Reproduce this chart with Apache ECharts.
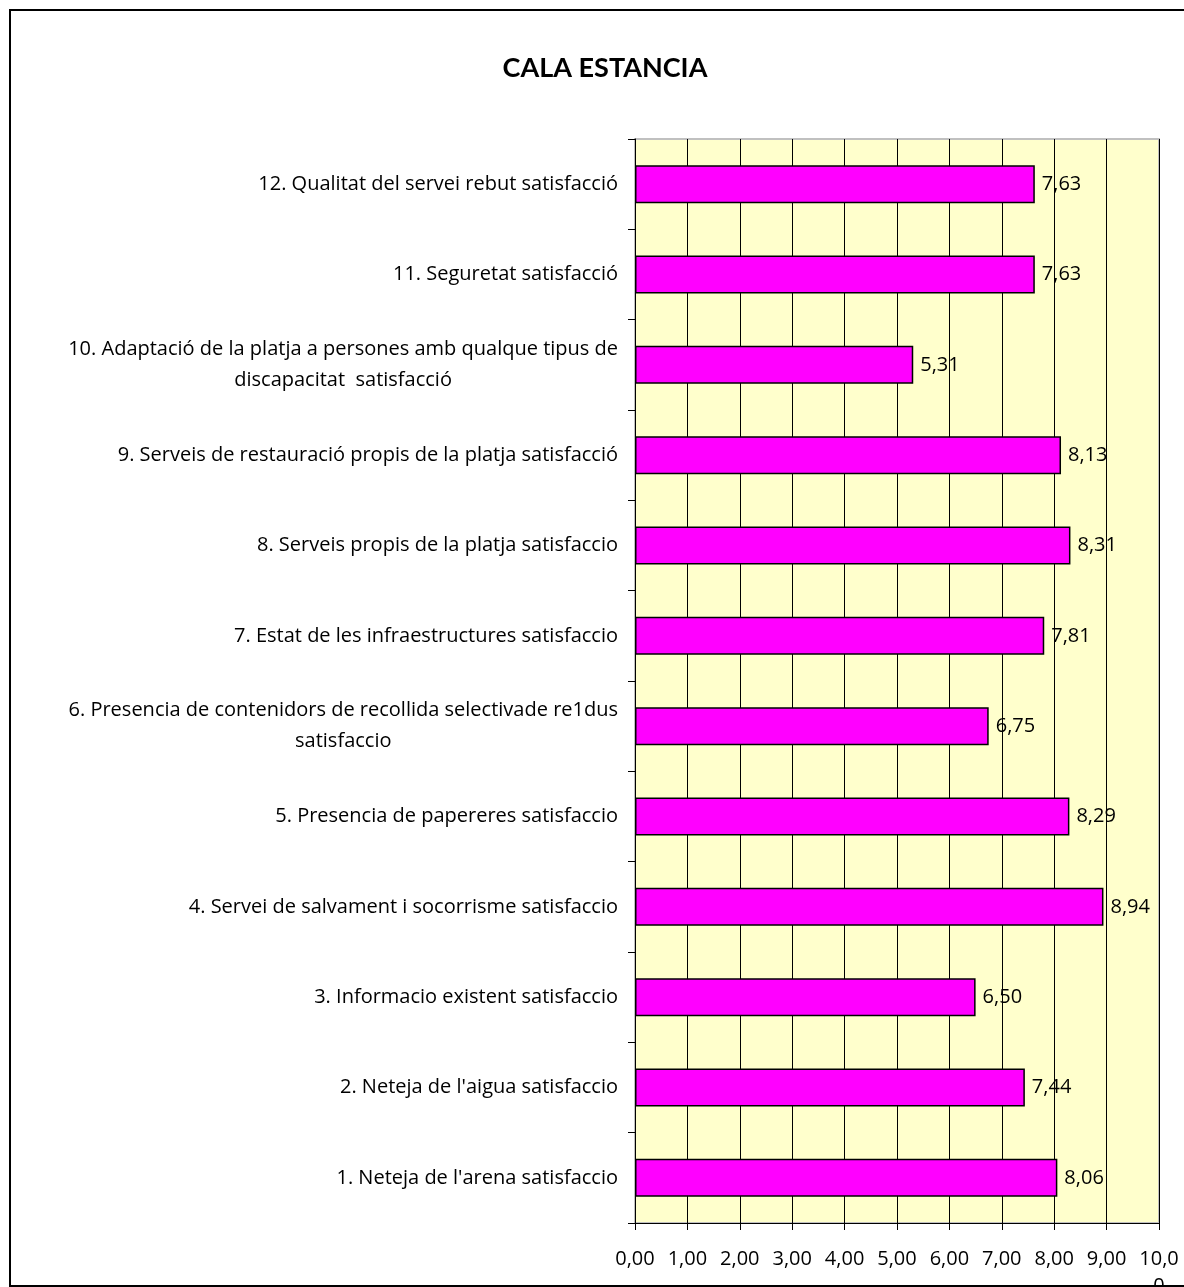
<!DOCTYPE html>
<html>
<head>
<meta charset="utf-8">
<script src="https://cdn.jsdelivr.net/npm/echarts@6/dist/echarts.min.js"></script>
<style>
  html, body { margin: 0; padding: 0; background: #fff; }
  #chart { width: 1184px; height: 1287px; }
</style>
</head>
<body>
<div id="chart"></div>
<script>
// Satisfaction scores per item (bottom to top on the chart)
const categories = [
  "1. Neteja de l'arena satisfaccio",
  "2. Neteja de l'aigua satisfaccio",
  "3. Informacio existent satisfaccio",
  "4. Servei de salvament i socorrisme satisfaccio",
  "5. Presencia de papereres satisfaccio",
  "6. Presencia de contenidors de recollida selectivade re1dus\nsatisfaccio",
  "7. Estat de les infraestructures satisfaccio",
  "8. Serveis propis de la platja satisfaccio",
  "9. Serveis de restauració propis de la platja satisfacció",
  "10. Adaptació de la platja a persones amb qualque tipus de\ndiscapacitat  satisfacció",
  "11. Seguretat satisfacció",
  "12. Qualitat del servei rebut satisfacció"
];
const scores = [8.06, 7.44, 6.50, 8.94, 8.29, 6.75, 7.81, 8.31, 8.13, 5.31, 7.63, 7.63];
const tickLabels = ["0,00", "1,00", "2,00", "3,00", "4,00", "5,00", "6,00", "7,00", "8,00", "9,00", "10,0\n0"];
const chartTitle = "CALA ESTANCIA";

const FONT = "'Open Sans', Lato, sans-serif";
const fmt = v => v.toFixed(2).replace('.', ',');

const chart = echarts.init(document.getElementById('chart'), null, { renderer: 'canvas' });

chart.setOption({
  animation: false,
  backgroundColor: '#ffffff',
  textStyle: { fontFamily: FONT },
  title: {
    text: chartTitle,
    left: 600,
    top: 50,
    textAlign: 'center',
    textStyle: { fontFamily: "Lato, 'Open Sans', sans-serif", fontWeight: 'bold', fontSize: 27, color: '#000' }
  },
  graphic: [{
    type: 'rect',
    silent: true,
    shape: { x: 10, y: 10, width: 1200, height: 1276 },
    style: { fill: 'none', stroke: '#000', lineWidth: 2 }
  }],
  grid: {
    left: 635,
    top: 139,
    right: 25,
    bottom: 64,
    outerBoundsMode: 'none',
    containLabel: false,
    show: true,
    backgroundColor: '#FFFFCC',
    borderColor: '#c0c0c0',
    borderWidth: 2
  },
  xAxis: {
    type: 'value',
    min: 0,
    max: 10,
    interval: 1,
    axisLine: { show: true, lineStyle: { color: '#000', width: 1 } },
    axisTick: { show: true, inside: false, length: 7, lineStyle: { color: '#000' } },
    splitLine: { show: true, lineStyle: { color: '#000', width: 1 } },
    axisLabel: {
      margin: 23,
      fontFamily: FONT,
      fontSize: 20,
      color: '#000',
      lineHeight: 27,
      formatter: (v) => tickLabels[Math.round(v)]
    }
  },
  yAxis: {
    type: 'category',
    data: categories,
    axisLine: { show: true, lineStyle: { color: '#000', width: 1 } },
    axisTick: { show: true, inside: false, length: 7, alignWithLabel: false, lineStyle: { color: '#000' } },
    splitLine: { show: false },
    axisLabel: {
      margin: 17,
      fontFamily: FONT,
      fontSize: 20,
      color: '#000',
      align: 'right',
      formatter: (v) => v.split('\n').map(l => '{c|' + l + '}').join('\n'),
      rich: { c: { align: 'center', fontFamily: FONT, fontSize: 20, lineHeight: 31, color: '#000' } }
    }
  },
  series: [{
    type: 'bar',
    data: scores,
    barWidth: '42%',
    itemStyle: { color: '#FF00FF', borderColor: '#000', borderWidth: 1.5 },
    label: {
      show: true,
      position: 'right',
      distance: 7,
      fontFamily: FONT,
      fontSize: 20,
      color: '#000',
      formatter: (p) => fmt(p.value)
    }
  }]
});
</script>
</body>
</html>
